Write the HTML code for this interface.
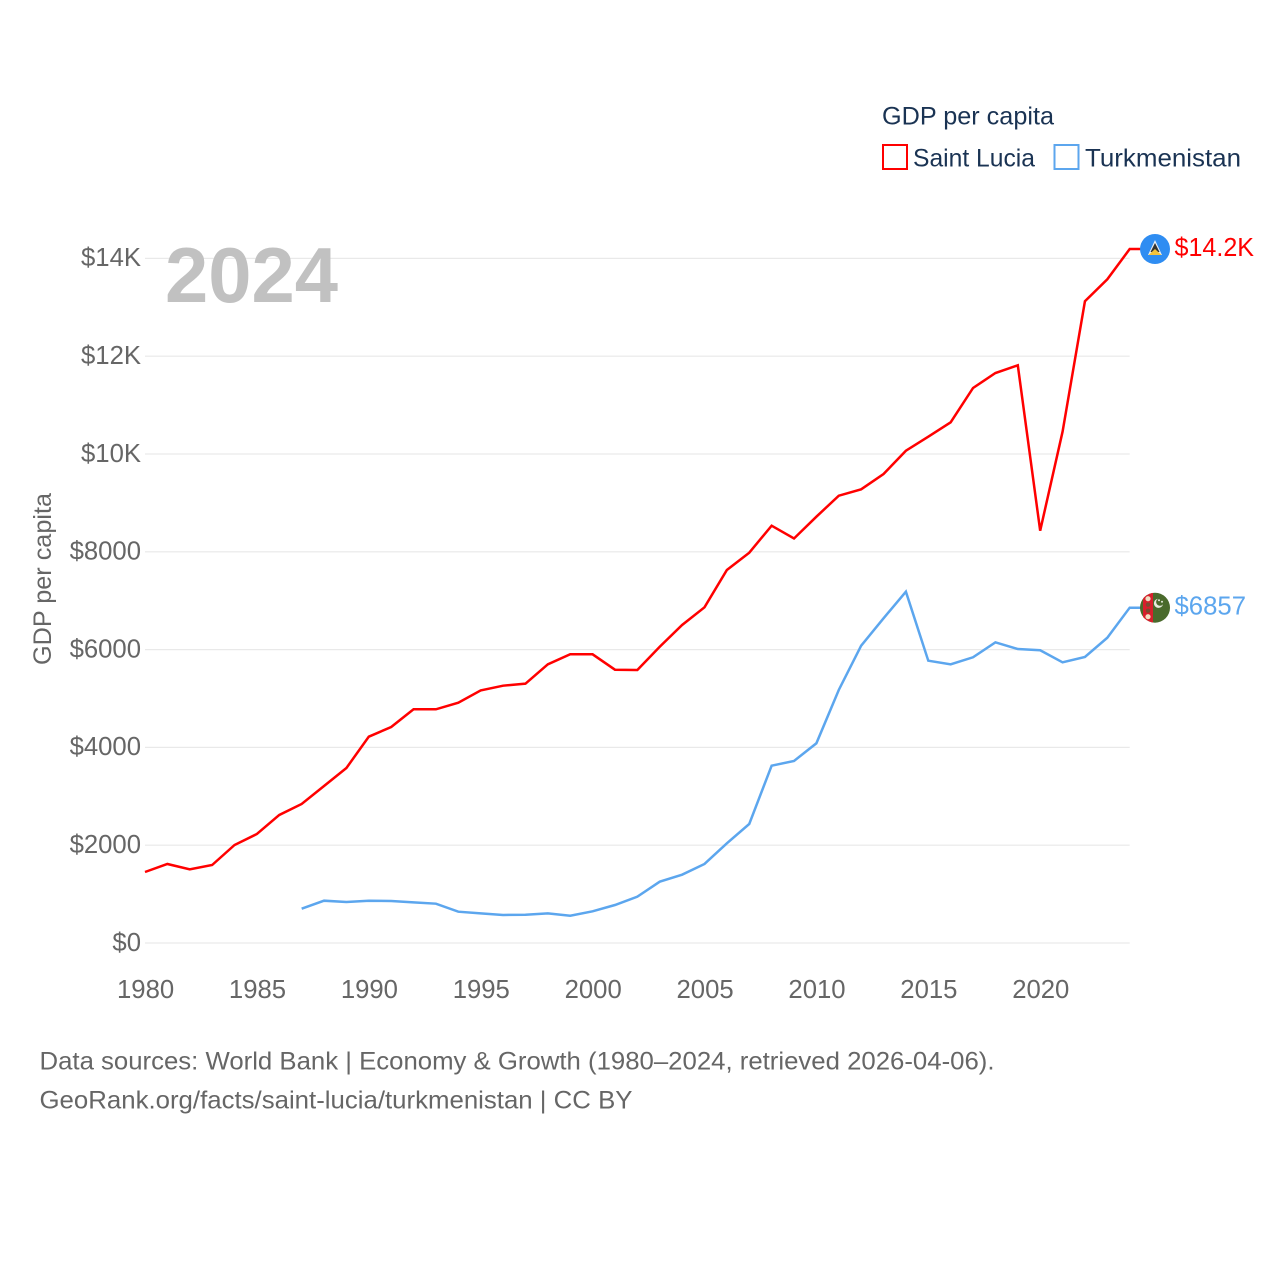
<!DOCTYPE html>
<html lang="en">
<head>
<meta charset="utf-8">
<title>GDP per capita: Saint Lucia and Turkmenistan</title>
<style>
html,body{margin:0;padding:0;background:#fff;width:1280px;height:1280px;overflow:hidden}
svg{display:block;font-family:"Liberation Sans",Arial,sans-serif}
.tick{font-size:25.7px;fill:#666}
.legend{font-size:25px;fill:#1a3353}
.foot{font-size:25px;fill:#666}
</style>
</head>
<body>
<svg id="chart" xmlns="http://www.w3.org/2000/svg" width="1280" height="1280" viewBox="0 0 1280 1280">
  <rect x="0" y="0" width="1280" height="1280" fill="#ffffff"/>
  <g id="grid"></g>
  <text x="165" y="302" font-size="78" font-weight="700" fill="#bfbfbf" fill-opacity="0.97" textLength="173" lengthAdjust="spacingAndGlyphs">2024</text>
  <g id="y-ticks"></g>
  <g id="x-ticks"></g>
  <text class="tick" style="font-size:25px" transform="translate(51,579) rotate(-90)" text-anchor="middle" textLength="172" lengthAdjust="spacingAndGlyphs">GDP per capita</text>
  <g id="series"></g>

  <g id="flag-lucia">
    <circle r="15" fill="#2f8df2"/>
    <path d="M0-9L7 6H-7Z" fill="#e8eef5"/>
    <path d="M0-6L4.5 3H-4.5Z" fill="#333"/>
    <path d="M0 0L6.5 6H-6.5Z" fill="#f5c33b"/>
  </g>
  <g id="flag-turkmen">
    <defs><clipPath id="flag-clip"><circle r="15"/></clipPath></defs>
    <circle r="15" fill="#4a6a2c"/>
    <g clip-path="url(#flag-clip)">
      <rect x="-12" y="-15" width="10" height="30" fill="#d81f2c"/>
      <circle cx="-7" cy="-9" r="2.6" fill="#f1dfc4"/>
      <circle cx="-7" cy="-3" r="2.2" fill="#7d4a30"/>
      <circle cx="-7" cy="3" r="2.2" fill="#7d4a30"/>
      <circle cx="-7" cy="9" r="2.6" fill="#f1dfc4"/>
      <path d="M3-9A4.6 4.6 0 1 0 8-3.5A3.8 3.8 0 1 1 3-9Z" fill="#e8ecdf"/>
      <circle cx="4" cy="-7.5" r="1" fill="#e8ecdf"/>
      <circle cx="7" cy="-6" r="1" fill="#e8ecdf"/>
    </g>
  </g>
  <text id="label-lucia" x="1174.5" font-size="25.5" fill="#ff0000" textLength="79.5" lengthAdjust="spacingAndGlyphs">$14.2K</text>
  <text id="label-turkmen" x="1174.5" font-size="25.5" fill="#5ca6ee" textLength="71.5" lengthAdjust="spacingAndGlyphs">$6857</text>

  <g>
    <text class="legend" x="882" y="124.5" textLength="172" lengthAdjust="spacingAndGlyphs">GDP per capita</text>
    <g>
      <rect x="883" y="145" width="24" height="24" fill="#fff" stroke="#ff0000" stroke-width="2"/>
      <text class="legend" x="913" y="166.5" textLength="122" lengthAdjust="spacingAndGlyphs">Saint Lucia</text>
    </g>
    <g>
      <rect x="1054.5" y="145" width="24" height="24" fill="#fff" stroke="#5ca6ee" stroke-width="2"/>
      <text class="legend" x="1085" y="166.5" textLength="156" lengthAdjust="spacingAndGlyphs">Turkmenistan</text>
    </g>
  </g>

  <text class="foot" x="39.5" y="1069.5" textLength="955" lengthAdjust="spacingAndGlyphs">Data sources: World Bank | Economy &amp; Growth (1980–2024, retrieved 2026-04-06).</text>
  <text class="foot" x="39.5" y="1108.5" textLength="593" lengthAdjust="spacingAndGlyphs">GeoRank.org/facts/saint-lucia/turkmenistan | CC BY</text>
</svg>
<script>
var startYear = 1980;
var endYear = 2024;
var xTickYears = [1980, 1985, 1990, 1995, 2000, 2005, 2010, 2015, 2020];
var xTickLabels = ['1980', '1985', '1990', '1995', '2000', '2005', '2010', '2015', '2020'];
var yTickValues = [0, 2000, 4000, 6000, 8000, 10000, 12000, 14000];
var yTickLabels = ['$0', '$2000', '$4000', '$6000', '$8000', '$10K', '$12K', '$14K'];
var saintLuciaStart = 1980;
var saintLuciaValues = [1452, 1616, 1507, 1595, 2004, 2229, 2618, 2843, 3211, 3579, 4219, 4417, 4779, 4779, 4914, 5166, 5262, 5303, 5699, 5904, 5904, 5589, 5583, 6059, 6503, 6865, 7628, 7982, 8534, 8272, 8718, 9147, 9278, 9591, 10067, 10354, 10648, 11350, 11656, 11814, 8431, 10456, 13123, 13573, 14192];
var turkmenistanStart = 1987;
var turkmenistanValues = [701, 865, 838, 865, 859, 832, 804, 640, 607, 573, 579, 607, 558, 648, 777, 947, 1254, 1397, 1616, 2039, 2434, 3626, 3722, 4084, 5174, 6080, 6640, 7184, 5773, 5699, 5843, 6149, 6012, 5986, 5740, 5849, 6243, 6857];

var NS = 'http://www.w3.org/2000/svg';
var plotLeft = 145;
var plotRight = 1129.7;
var plotZero = 943;
var plotTop14k = 258.4;

function xScale(year) {
  return plotLeft + (year - startYear) * (plotRight - plotLeft) / (endYear - startYear);
}
function yScale(value) {
  return plotZero - value * (plotZero - plotTop14k) / 14000;
}
function make(tag, parent) {
  var el = document.createElementNS(NS, tag);
  parent.appendChild(el);
  return el;
}

var gridGroup = document.getElementById('grid');
var yTickGroup = document.getElementById('y-ticks');
var xTickGroup = document.getElementById('x-ticks');
var seriesGroup = document.getElementById('series');

yTickValues.forEach(function (value, i) {
  var line = make('line', gridGroup);
  
  
  line.setAttribute('x1', plotLeft);
  line.setAttribute('x2', plotRight);
  line.setAttribute('y1', yScale(value));
  line.setAttribute('y2', yScale(value));
  line.setAttribute('stroke', '#e9e9e9');
  line.setAttribute('stroke-width', '1.2');
  var label = make('text', yTickGroup);
  
  
  label.setAttribute('class', 'tick');
  label.setAttribute('x', 141);
  label.setAttribute('y', yScale(value) + 7.8);
  label.setAttribute('text-anchor', 'end');
  label.textContent = yTickLabels[i];
});

xTickYears.forEach(function (year, i) {
  var label = make('text', xTickGroup);
  
  
  label.setAttribute('class', 'tick');
  label.setAttribute('x', xScale(year) + 0.6);
  label.setAttribute('y', 998);
  label.setAttribute('text-anchor', 'middle');
  label.textContent = xTickLabels[i];
});

function drawSeries(values, firstYear, color, name) {
  var pts = values.map(function (v, i) {
    return xScale(firstYear + i).toFixed(2) + ',' + yScale(v).toFixed(2);
  });
  var last = values[values.length - 1];
  pts.push((xScale(firstYear + values.length - 1) + 12).toFixed(2) + ',' + yScale(last).toFixed(2));
  var line = make('polyline', seriesGroup);
  
  
  line.setAttribute('points', pts.join(' '));
  line.setAttribute('fill', 'none');
  line.setAttribute('stroke', color);
  line.setAttribute('stroke-width', '2.5');
  line.setAttribute('stroke-linejoin', 'miter');
}
drawSeries(saintLuciaValues, saintLuciaStart, '#ff0000', 'saint-lucia-line');
drawSeries(turkmenistanValues, turkmenistanStart, '#5ca6ee', 'turkmenistan-line');

function placeEnd(flagId, labelId, value) {
  var y = yScale(value);
  document.getElementById(flagId).setAttribute('transform', 'translate(1155,' + y + ')');
  document.getElementById(labelId).setAttribute('y', y + 7);
}
placeEnd('flag-lucia', 'label-lucia', saintLuciaValues[saintLuciaValues.length - 1]);
placeEnd('flag-turkmen', 'label-turkmen', turkmenistanValues[turkmenistanValues.length - 1]);
</script>
</body>
</html>
